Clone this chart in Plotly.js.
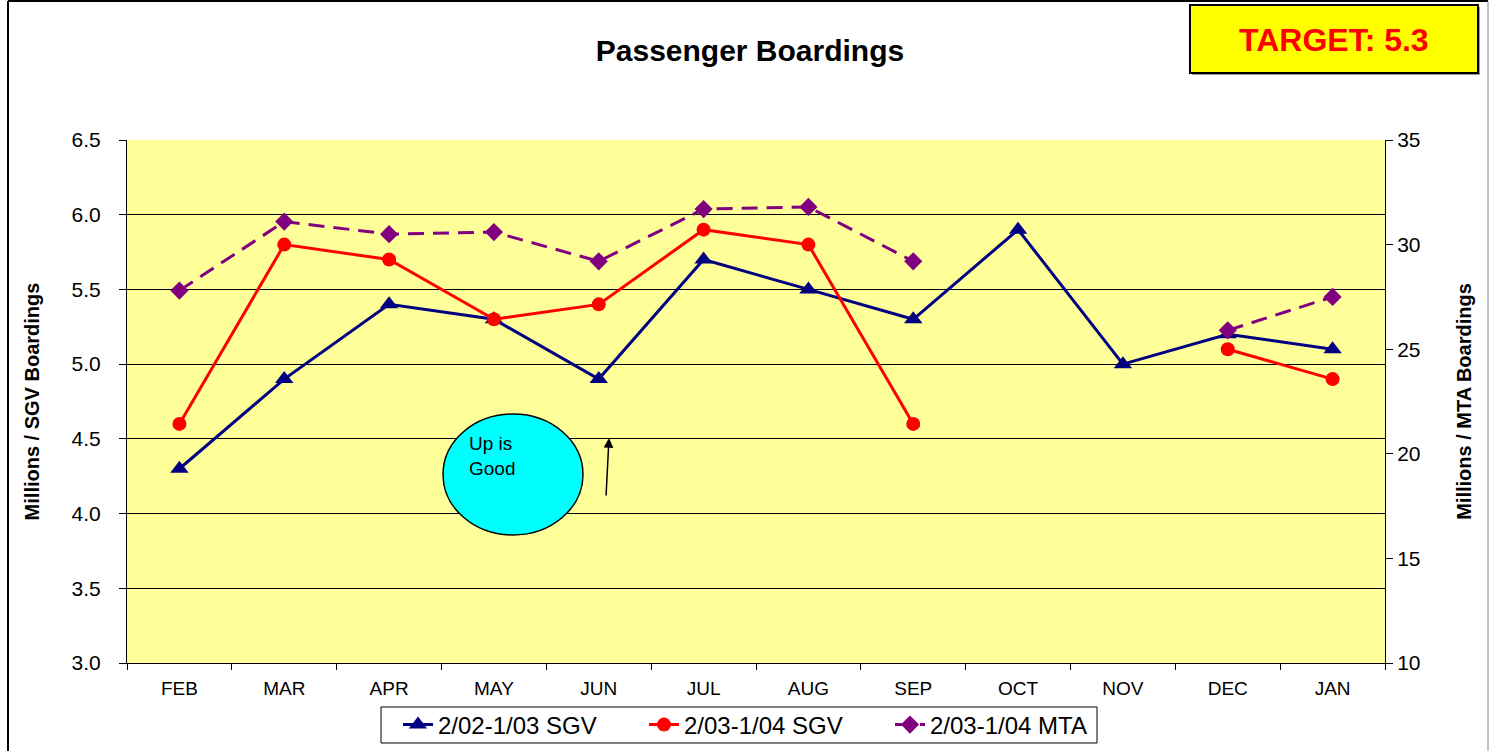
<!DOCTYPE html>
<html>
<head>
<meta charset="utf-8">
<script src="https://cdn.plot.ly/plotly-3.0.1.min.js"></script>
<style>html,body{margin:0;padding:0;background:#fff;}#chart{width:1491px;height:751px;}</style>
</head>
<body>
<div id="chart"></div>
<script>
const months = ["FEB","MAR","APR","MAY","JUN","JUL","AUG","SEP","OCT","NOV","DEC","JAN"];
const sgv0203 = [4.3, 4.9, 5.4, 5.3, 4.9, 5.7, 5.5, 5.3, 5.9, 5.0, 5.2, 5.1];
const sgv0304 = [4.6, 5.8, 5.7, 5.3, 5.4, 5.9, 5.8, 4.6, null, null, 5.1, 4.9];
const mta0304 = [27.8, 31.1, 30.5, 30.6, 29.2, 31.7, 31.8, 29.2, null, null, 25.9, 27.5];
const seriesNames = ["2/02-1/03 SGV", "2/03-1/04 SGV", "2/03-1/04 MTA"];

const F = "Liberation Sans, Arial, sans-serif";

const traces = [
  {x: months, y: sgv0203, name: seriesNames[0], type: "scatter", mode: "lines+markers",
   line: {color: "#000080", width: 3}, marker: {symbol: "triangle-up", size: 16, color: "#000080"}, yaxis: "y"},
  {x: months, y: sgv0304, name: seriesNames[1], type: "scatter", mode: "lines+markers",
   line: {color: "#FF0000", width: 3}, marker: {symbol: "circle", size: 14, color: "#FF0000"}, yaxis: "y"},
  {x: months, y: mta0304, name: seriesNames[2], type: "scatter", mode: "lines+markers",
   line: {color: "#800080", width: 3, dash: "16px,9px"}, marker: {symbol: "diamond", size: 14, color: "#800080"}, yaxis: "y2"}
];

const P = (px) => (px - 127) / 1258;   // pixel x -> paper x
const Q = (py) => (663 - py) / 523;    // pixel y -> paper y

const layout = {
  width: 1491, height: 751,
  margin: {l: 127, r: 106, t: 140, b: 88, autoexpand: false},
  paper_bgcolor: "#FFFFFF",
  plot_bgcolor: "#FFFF99",
  font: {family: F, color: "#000", size: 20},
  showlegend: true,
  title: {text: "<b>Passenger Boardings</b>", font: {family: F, size: 30, color: "#000"},
          x: 0.503, xanchor: "center", y: 1 - 50/751, yanchor: "middle", yref: "container"},
  xaxis: {type: "category", range: [-0.5, 11.5], showgrid: false, zeroline: false,
          showline: true, linecolor: "#000", linewidth: 1,
          ticks: "outside", ticklen: 6, tickcolor: "#000", tickson: "boundaries",
          ticklabelstandoff: 8,
          tickfont: {family: F, size: 19, color: "#000"}, fixedrange: true},
  yaxis: {range: [3.0, 6.5], dtick: 0.5, tick0: 3.0, tickformat: ".1f",
          showgrid: true, gridcolor: "#000", gridwidth: 1, zeroline: false,
          showline: true, linecolor: "#000", linewidth: 1, mirror: false,
          ticks: "outside", ticklen: 7, tickcolor: "#000", ticklabelstandoff: 14,
          tickfont: {family: F, size: 21, color: "#000"},
          title: {text: "<b>Millions / SGV Boardings</b>", font: {family: F, size: 20, color: "#000"}, standoff: 26}},
  yaxis2: {range: [10, 35], dtick: 5, tick0: 10, overlaying: "y", side: "right",
           showgrid: false, zeroline: false, showline: true, linecolor: "#000", linewidth: 1,
           ticks: "outside", ticklen: 7, tickcolor: "#000",
           tickfont: {family: F, size: 21, color: "#000"},
           title: {text: "<b>Millions / MTA Boardings</b>", font: {family: F, size: 20, color: "#000"}, standoff: 37}},
  legend: {orientation: "h", x: P(767), xanchor: "center", y: Q(725), yanchor: "middle",
           bgcolor: "rgba(0,0,0,0)", borderwidth: 0, entrywidth: 201, entrywidthmode: "pixels",
           font: {family: F, size: 24, color: "#000"}, itemwidth: 30, tracegroupgap: 0},
  shapes: [
    {type: "line", xref: "paper", yref: "paper", x0: P(8), x1: P(8), y0: Q(760), y1: Q(1), line: {color: "#000", width: 2}},
    {type: "line", xref: "paper", yref: "paper", x0: P(8), x1: P(1488), y0: Q(1), y1: Q(1), line: {color: "#000", width: 2}},
    {type: "line", xref: "paper", yref: "paper", x0: P(1488), x1: P(1488), y0: Q(760), y1: Q(1), line: {color: "#888", width: 1}},
    {type: "rect", xref: "paper", yref: "paper", x0: P(1192), x1: P(1480), y0: Q(75), y1: Q(7), fillcolor: "#999", line: {width: 0}},
    {type: "rect", xref: "paper", yref: "paper", x0: P(1190), x1: P(1478), y0: Q(73), y1: Q(5), fillcolor: "#FFFF00", line: {color: "#000", width: 2}},
    {type: "rect", xref: "paper", yref: "paper", x0: P(381), x1: P(1097), y0: Q(743), y1: Q(707), fillcolor: "#FFFFFF", line: {color: "#000", width: 1}},
    {type: "circle", xref: "paper", yref: "paper", x0: P(443), x1: P(583), y0: Q(535), y1: Q(414), fillcolor: "#00FFFF", line: {color: "#000", width: 1.5}}
  ],
  annotations: [
    {xref: "paper", yref: "paper", x: P(1334), y: Q(40), xanchor: "center", yanchor: "middle",
     text: "<b>TARGET: 5.3</b>", showarrow: false, font: {family: F, size: 32, color: "#FF0000"}},
    {xref: "paper", yref: "paper", x: P(467), y: Q(456), xanchor: "left", yanchor: "middle", align: "left",
     text: "Up is<br>Good", showarrow: false, font: {family: F, size: 19, color: "#000"}},
    {xref: "paper", yref: "paper", x: P(609), y: Q(438), ax: -3, ay: 59, text: "", showarrow: true,
     arrowhead: 2, arrowsize: 1.3, arrowwidth: 1.5, arrowcolor: "#000"}
  ]
};

Plotly.newPlot("chart", traces, layout, {displayModeBar: false, staticPlot: true});
</script>
</body>
</html>
